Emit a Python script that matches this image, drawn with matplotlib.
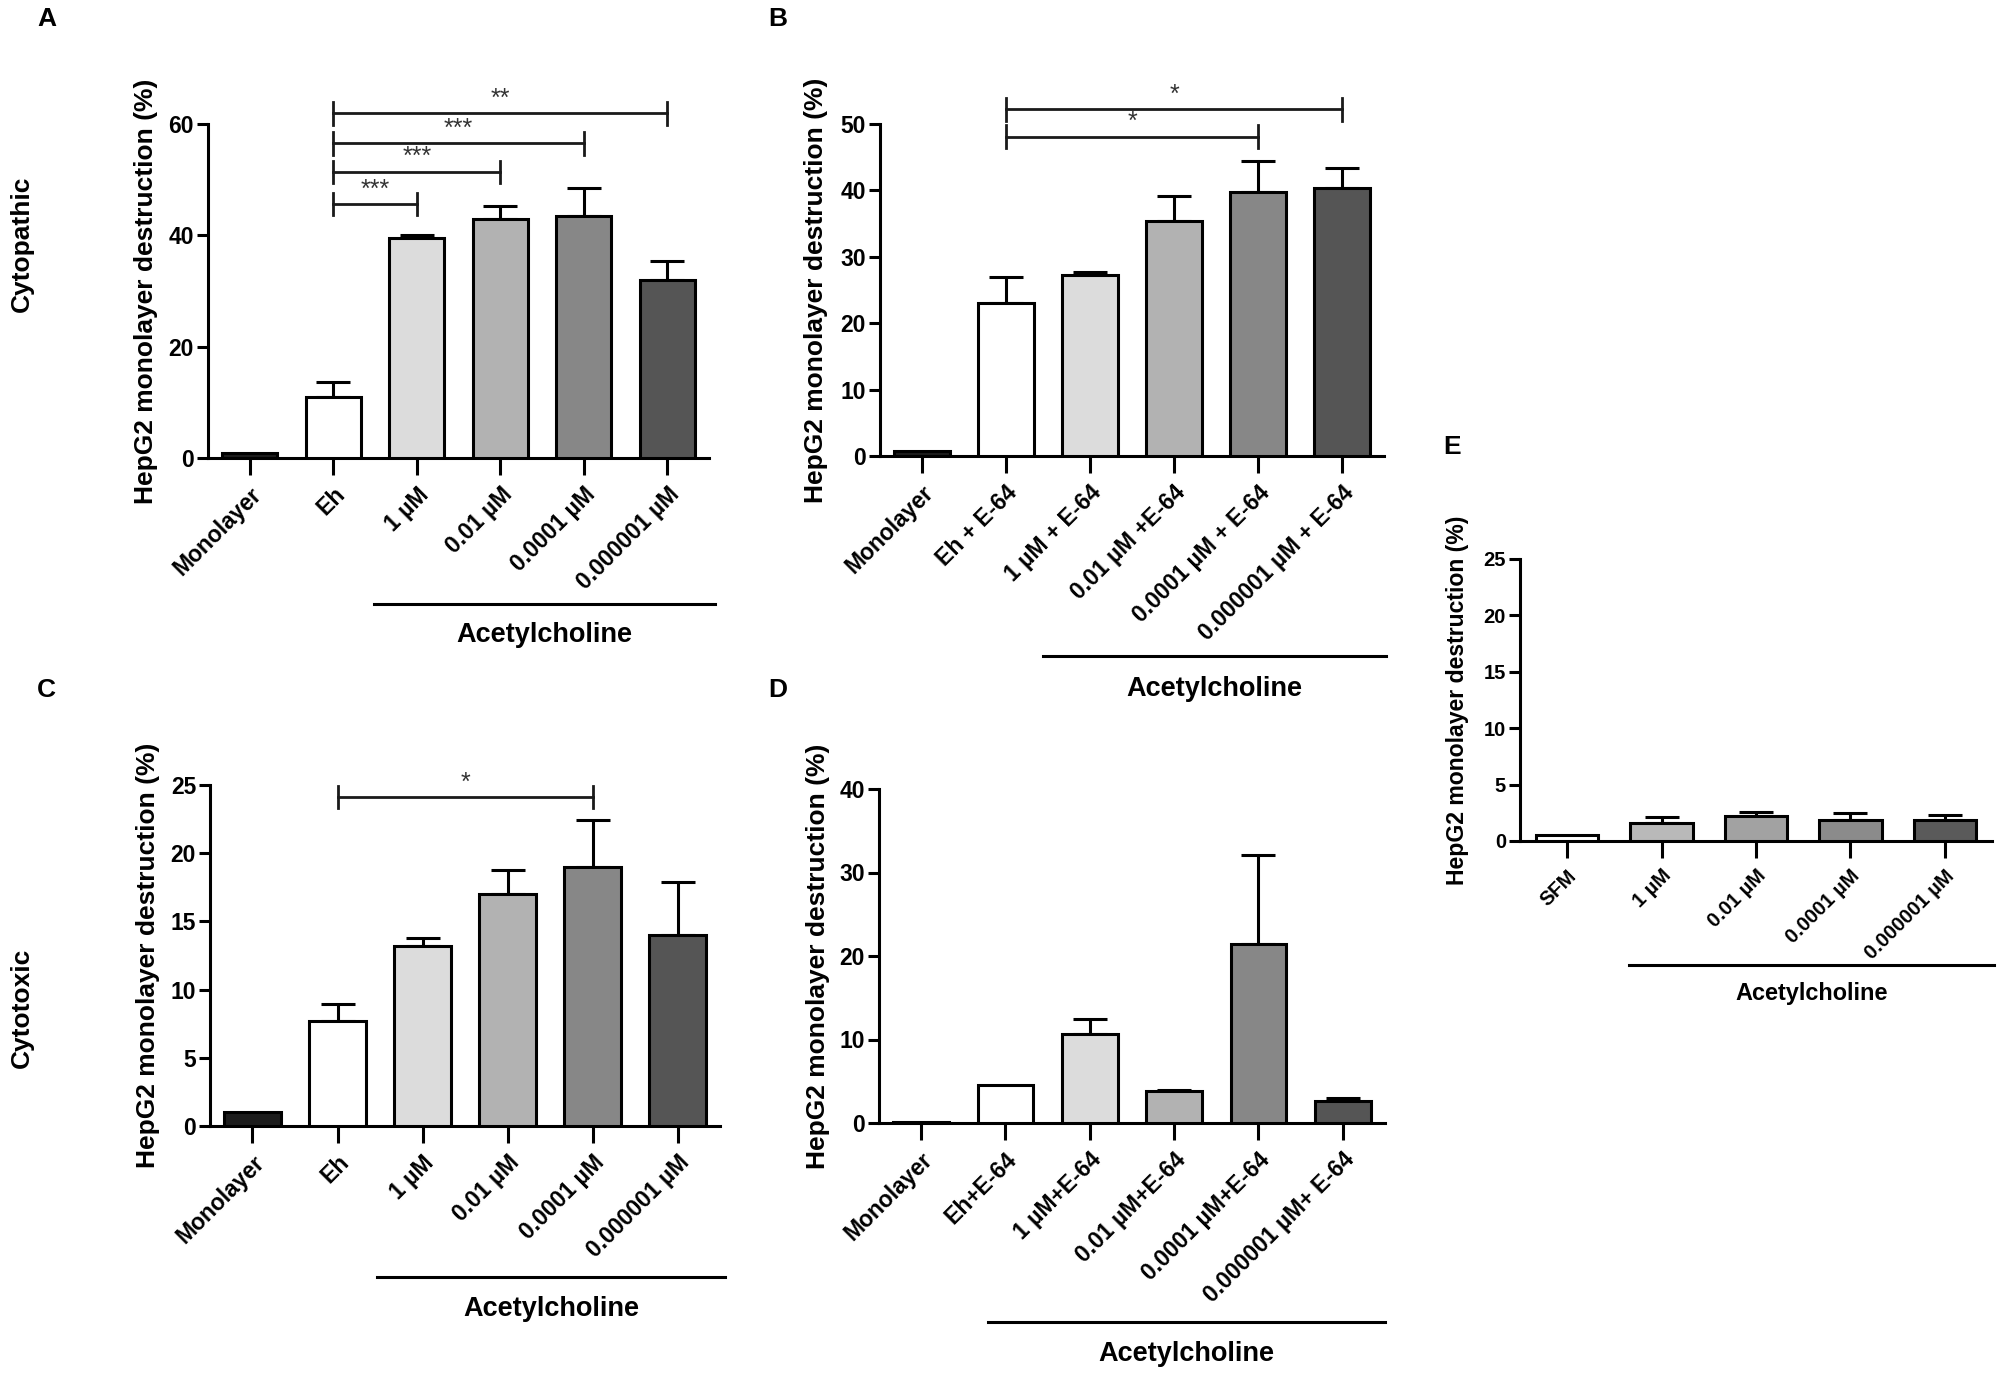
import numpy as np
import matplotlib
matplotlib.use("Agg")
import matplotlib.pyplot as plt

plt.rcParams["font.family"] = ["Liberation Sans", "DejaVu Sans"]
plt.rcParams["font.weight"] = "bold"
plt.rcParams["axes.labelweight"] = "bold"

# ---- data ----
labels_A = ["Monolayer", "Eh", "1 µM", "0.01 µM", "0.0001 µM", "0.000001 µM"]
means_A = [0.9, 11.0, 39.6, 43.0, 43.4, 32.0]
err_A = [0, 2.6, 0.5, 2.2, 5.1, 3.4]
sig_A = [(1, 2, 45.6, "***"), (1, 3, 51.4, "***"), (1, 4, 56.5, "***"), (1, 5, 61.9, "**")]

labels_B = ["Monolayer", "Eh + E-64", "1 µM + E-64", "0.01 µM +E-64",
            "0.0001 µM + E-64", "0.000001 µM + E-64"]
means_B = [0.8, 23.1, 27.2, 35.4, 39.7, 40.3]
err_B = [0, 3.9, 0.5, 3.7, 4.8, 3.0]
sig_B = [(1, 4, 48.1, "*"), (1, 5, 52.2, "*")]

labels_C = ["Monolayer", "Eh", "1 µM", "0.01 µM", "0.0001 µM", "0.000001 µM"]
means_C = [1.0, 7.7, 13.2, 17.0, 19.0, 14.0]
err_C = [0, 1.25, 0.55, 1.8, 3.4, 3.9]
sig_C = [(1, 4, 24.1, "*")]

labels_D = ["Monolayer", "Eh+E-64", "1 µM+E-64", "0.01 µM+E-64",
            "0.0001 µM+E-64", "0.000001 µM+ E-64"]
means_D = [0.15, 4.6, 10.6, 3.85, 21.4, 2.6]
err_D = [0, 0, 1.8, 0.1, 10.7, 0.45]

labels_E = ["SFM", "1 µM", "0.01 µM", "0.0001 µM", "0.000001 µM"]
means_E = [0.5, 1.6, 2.2, 1.9, 1.85]
err_E = [0, 0.55, 0.4, 0.55, 0.45]

greys6 = ["#1c1c1c", "#ffffff", "#dcdcdc", "#b2b2b2", "#878787", "#555555"]
greys5 = ["#ffffff", "#b9b9b9", "#a2a2a2", "#8b8b8b", "#5a5a5a"]

YLABEL = "HepG2 monolayer destruction (%)"
LW = 2.2

fig = plt.figure(figsize=(20.08, 13.94), dpi=100)
W, H = 2008, 1394


def make_axes(x0, x1, ytop, ybot):
    return fig.add_axes([x0 / W, 1 - ybot / H, (x1 - x0) / W, (ybot - ytop) / H])


def draw_panel(ax, labels, means, errs, colors, ymax, ystep, ylab_x,
               grp, sigs=(), sig_dy=1.0, fs=1.0, tfs=1.0):
    x = np.arange(len(labels))
    ax.bar(x, means, width=0.66, color=colors, edgecolor="black",
           linewidth=LW, zorder=3)
    idx = [i for i, e in enumerate(errs) if e > 0]
    ax.errorbar(x[idx], [means[i] for i in idx],
                yerr=[[0] * len(idx), [errs[i] for i in idx]],
                fmt="none", ecolor="black", elinewidth=LW, capsize=12,
                capthick=LW, zorder=2)
    ax.set_xlim(-0.5, len(labels) - 0.5)
    ax.set_ylim(0, ymax)
    ax.set_yticks(np.arange(0, ymax + 0.1, ystep))
    ax.set_xticks(x)
    ax.set_xticklabels(labels, rotation=45, ha="right",
                       rotation_mode="anchor", fontsize=16.5 * tfs,
                       fontweight="bold")
    ax.tick_params(axis="y", labelsize=16.5 * tfs, length=8, width=LW, pad=2)
    ax.tick_params(axis="x", length=12, width=LW, pad=6)
    for t in ax.get_yticklabels():
        t.set_fontweight("bold")
    for s in ("top", "right"):
        ax.spines[s].set_visible(False)
    for s in ("left", "bottom"):
        ax.spines[s].set_linewidth(LW)
    ax.set_facecolor("none")
    ax.set_ylabel(YLABEL, fontsize=19 * fs, fontweight="bold")
    ax.yaxis.set_label_coords(ylab_x, 0.5)

    # line under the acetylcholine groups
    gx0, gx1, gy, ty = grp
    tr = ax.get_xaxis_transform()
    ax.plot([gx0, gx1], [gy, gy], color="black", lw=LW, transform=tr,
            clip_on=False)
    ax.text((gx0 + gx1) / 2, ty, "Acetylcholine", transform=tr,
            ha="center", va="center", fontsize=19.5 * fs, fontweight="bold")

    # significance bars
    for a, b, y, star in sigs:
        ax.plot([a, b], [y, y], color="#1a1a1a", lw=2.0, clip_on=False)
        for xx in (a, b):
            ax.plot([xx, xx], [y - sig_dy, y + sig_dy], color="#1a1a1a",
                    lw=2.0, clip_on=False)
        ax.text((a + b) / 2, y + sig_dy * 0.25, star, ha="center",
                va="bottom", fontsize=18, fontweight="normal", color="#333333")


axA = make_axes(208, 709, 124, 458)
draw_panel(axA, labels_A, means_A, err_A, greys6, 60, 20, -0.099,
           (1.49, 5.57, -0.437, -0.53), sig_A, 2.0)

axB = make_axes(880, 1384, 124, 456)
draw_panel(axB, labels_B, means_B, err_B, greys6, 50, 10, -0.104,
           (1.44, 5.52, -0.602, -0.702), sig_B, 1.7)

axC = make_axes(210, 720, 785, 1126)
draw_panel(axC, labels_C, means_C, err_C, greys6, 25, 5, -0.098,
           (1.46, 5.56, -0.443, -0.537), sig_C, 0.82)

axD = make_axes(879, 1385, 789, 1123)
draw_panel(axD, labels_D, means_D, err_D, greys6, 40, 10, -0.097,
           (0.79, 5.5, -0.596, -0.692))

axE = make_axes(1520, 1992, 559, 841)
draw_panel(axE, labels_E, means_E, err_E, greys5, 25, 5, -0.108,
           (0.65, 4.52, -0.438, -0.54), fs=0.87, tfs=0.88)

# panel letters and row titles
for letter, px, py in [("A", 47, 19), ("B", 778, 19), ("C", 46, 690),
                       ("D", 778, 690), ("E", 1452, 447)]:
    fig.text(px / W, 1 - py / H, letter, ha="center", va="center",
             fontsize=19, fontweight="bold")
fig.text(22 / W, 1 - 244 / H, "Cytopathic", rotation=90, ha="center",
         va="center", fontsize=19, fontweight="bold")
fig.text(22 / W, 1 - 1008 / H, "Cytotoxic", rotation=90, ha="center",
         va="center", fontsize=19, fontweight="bold")

fig.savefig("out.png", dpi=100, facecolor="white")
